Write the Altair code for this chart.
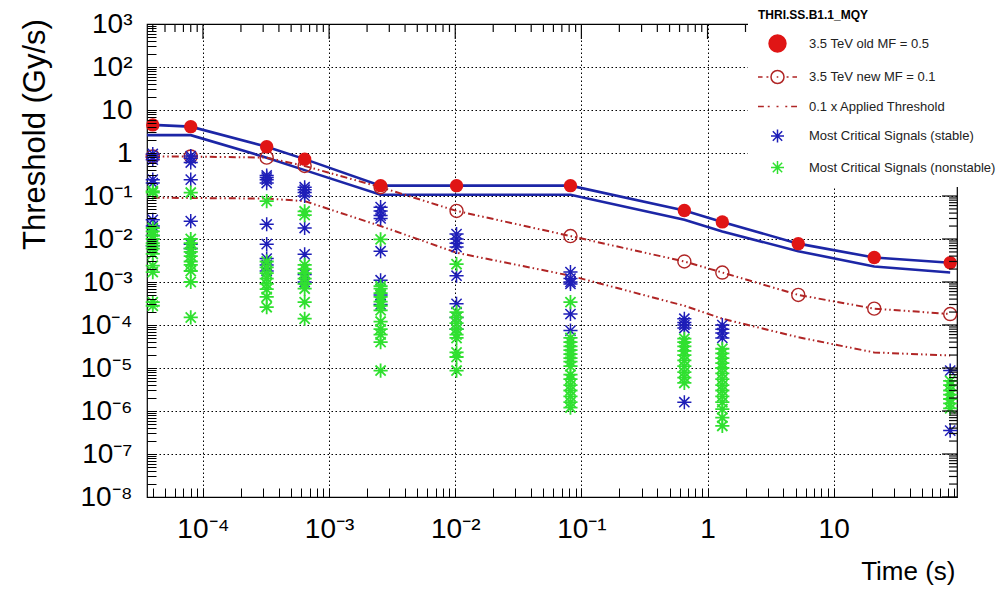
import json
import altair as alt
import pandas as pd

# ---------------- data ----------------
times = [4.0e-5, 8.0e-5, 3.2e-4, 6.4e-4, 2.56e-3, 1.024e-2, 8.192e-2, 0.655, 1.31, 5.24, 20.97, 83.89]

old_mf = [4.5, 4.1, 1.4, 0.72, 0.174, 0.174, 0.174, 0.046, 0.025, 0.0078, 0.0037, 0.0028]
new_mf = [0.83, 0.83, 0.78, 0.5, 0.16, 0.045, 0.0117, 0.0030, 0.00166, 5.0e-4, 2.4e-4, 1.8e-4]
applied_01 = [0.091, 0.09, 0.087, 0.076, 0.02, 0.0048, 0.0014, 2.8e-4, 1.4e-4, 5.2e-5, 2.3e-5, 1.95e-5]

# the two applied-threshold curves start at the left frame edge
line_times = [3.6e-5, 4.0e-5, 8.0e-5, 3.2e-4, 6.4e-4, 2.56e-3, 1.024e-2, 8.192e-2, 0.655, 1.31, 5.24, 20.97, 83.89]
thr_upper = [4.5, 4.5, 4.1, 1.4, 0.72, 0.174, 0.174, 0.174, 0.046, 0.025, 0.0078, 0.0037, 0.0028]
thr_lower = [2.6, 2.6, 2.6, 0.78, 0.4, 0.107, 0.107, 0.107, 0.028, 0.015, 0.0052, 0.0023, 0.00166]

stable_cols = [
    [0.95, 0.8, 0.7, 0.24, 0.2, 0.028, 0.02, 0.012, 0.007],
    [0.85, 0.75, 0.6, 0.24, 0.026, 0.0075, 0.006],
    [0.3, 0.27, 0.24, 0.2, 0.022, 0.0076, 0.0035, 0.0025, 0.0018],
    [0.16, 0.14, 0.12, 0.1, 0.018, 0.0044, 0.0015, 0.001],
    [0.055, 0.045, 0.035, 0.03, 0.0052, 0.0011, 5e-4, 3e-4],
    [0.013, 0.01, 0.008, 0.0065, 0.0014, 3.1e-4, 1.5e-4, 8e-5],
    [0.0017, 0.0012, 0.001, 0.0009, 1.8e-4, 7.4e-5],
    [1.4e-4, 1.15e-4, 1e-4, 8.5e-5, 1.6e-6],
    [1.0e-4, 8e-5, 6.5e-5, 5e-5],
    [],
    [],
    [8.7e-6, 3.5e-7],
]
nonstable_cols = [
    [0.13, 0.12, 0.018, 0.015, 0.012, 0.01, 0.008, 0.007, 0.006, 0.0045, 0.0024, 0.0017, 3.4e-4, 2.8e-4],
    [0.12, 0.01, 0.008, 0.006, 0.005, 0.004, 0.003, 0.0025, 0.0018, 0.001, 1.5e-4],
    [0.076, 0.003, 0.0022, 0.0016, 0.0012, 9e-4, 6.8e-4, 4.5e-4, 2.6e-4],
    [0.044, 0.036, 0.0025, 0.002, 0.0016, 0.0012, 9e-4, 7e-4, 3.4e-4, 1.4e-4],
    [0.0098, 8e-4, 7e-4, 5.5e-4, 4.5e-4, 3.5e-4, 2.8e-4, 2.2e-4, 1.2e-4, 8e-5, 6e-5, 4e-5, 8.7e-6],
    [0.0026, 2e-4, 1.5e-4, 1.1e-4, 8e-5, 6e-5, 5e-5, 2.3e-5, 1.8e-5, 8.7e-6],
    [3.4e-4, 5e-5, 4e-5, 3.2e-5, 2.6e-5, 2.1e-5, 1.7e-5, 1.4e-5, 1.1e-5, 7e-6, 5.5e-6, 4e-6, 3e-6, 2.2e-6, 1.6e-6, 1.2e-6],
    [4.8e-5, 4e-5, 3.2e-5, 2.5e-5, 2e-5, 1.5e-5, 1.1e-5, 8e-6, 6e-6, 4.5e-6],
    [2.8e-5, 2.2e-5, 1.7e-5, 1.3e-5, 1e-5, 7.5e-6, 5.5e-6, 4e-6, 3e-6, 2.2e-6, 1.6e-6, 1.1e-6, 7e-7, 4.5e-7],
    [],
    [],
    [5e-6, 4e-6, 3e-6, 2.4e-6, 1.9e-6, 1.5e-6, 1.15e-6],
]

series_names = ["3.5 TeV old MF = 0.5", "3.5 TeV new MF = 0.1", "0.1 x Applied Threshold",
                "Most Critical Signals (stable)", "Most Critical Signals (nonstable)"]

x_domain = [3.6e-5, 95.0]
y_domain = [1e-8, 1e3]
x_label_values = [1e-4, 1e-3, 1e-2, 1e-1, 1.0, 10.0]
x_labels = ["10⁻⁴", "10⁻³", "10⁻²", "10⁻¹", "1", "10"]
y_label_values = [1e-8, 1e-7, 1e-6, 1e-5, 1e-4, 1e-3, 1e-2, 1e-1, 1.0, 10.0, 100.0, 1000.0]
y_labels = ["10⁻⁸", "10⁻⁷", "10⁻⁶", "10⁻⁵", "10⁻⁴", "10⁻³", "10⁻²", "10⁻¹", "1", "10", "10²", "10³"]
minor_mantissas = [2, 3, 4, 5, 6, 7, 8, 9]
x_decades = [-5, -4, -3, -2, -1, 0, 1]
y_decades = [-8, -7, -6, -5, -4, -3, -2, -1, 0, 1, 2]

# ---------------- styling ----------------
W, H = 810, 473
FONT = "Liberation Sans"
BLUE_LINE = "#1c26a6"
BLUE_STAR = "#1e1eb8"
GREEN = "#30e030"
RED = "#e01515"
DARKRED = "#b02525"
TICK = "#0a0a0a"
STAR = "M-1,0L1,0M0,-1L0,1M-0.72,-0.72L0.72,0.72M-0.72,0.72L0.72,-0.72"
DASHDOT = [7, 3, 1.5, 3, 1.5, 3]
MAJOR_LEN, MINOR_LEN = 15, 8
AXIS_TICK = 9  # inward tick length on the labelled axes

x_minor = [m * 10.0 ** e for e in x_decades for m in minor_mantissas if x_domain[0] <= m * 10.0 ** e <= x_domain[1]]
y_minor = [m * 10.0 ** e for e in y_decades for m in minor_mantissas if y_domain[0] <= m * 10.0 ** e <= y_domain[1]]

xs = alt.Scale(type="log", domain=x_domain, nice=False)
ys = alt.Scale(type="log", domain=y_domain, nice=False)

is_major = "abs(log(datum.value)/LN10 - round(log(datum.value)/LN10)) < 0.001"

x_main_axis = alt.Axis(
    orient="bottom", values=sorted(x_label_values + x_minor),
    labelExpr=is_major + " ? " + json.dumps(x_labels, ensure_ascii=False)
    + "[round(log(datum.value)/LN10)+4] : ''",
    labelFont=FONT, labelFontSize=28, labelColor="black", labelPadding=18 + AXIS_TICK,
    labelOverlap=False, labelFlush=False, labelBound=False,
    ticks=True, tickSize=alt.ExprRef(expr=str(-AXIS_TICK)), tickColor="black", tickWidth=1,
    domain=False, grid=False,
    title="Time (s)", titleFont=FONT, titleFontSize=26, titleFontWeight="normal", titleColor="black",
    titleX=808, titleY=74, titleAlign="right", titleBaseline="middle", zindex=1)

y_main_axis = alt.Axis(
    orient="left", values=sorted(y_label_values + y_minor),
    labelExpr=is_major + " ? " + json.dumps(y_labels, ensure_ascii=False)
    + "[round(log(datum.value)/LN10)+8] : ''",
    labelFont=FONT, labelFontSize=28, labelColor="black", labelPadding=15 + AXIS_TICK,
    labelOverlap=False, labelFlush=False, labelBound=False,
    ticks=True, tickSize=alt.ExprRef(expr=str(-AXIS_TICK)), tickColor="black", tickWidth=1,
    domain=False, grid=False,
    title="Threshold (Gy/s)", titleFont=FONT, titleFontSize=31, titleFontWeight="normal",
    titleColor="black", titleX=-112, titleY=110, titleAngle=270, titleAlign="center",
    titleBaseline="middle", zindex=1)

# grid-only axes (dotted decade lines)
x_grid_axis = alt.Axis(orient="bottom", values=x_label_values, labels=False, ticks=False, domain=False,
                       grid=True, gridColor="black", gridDash=[1.5, 2.5], gridWidth=1, title=None, zindex=0)
y_grid_axis = alt.Axis(orient="left", values=y_label_values, labels=False, ticks=False, domain=False,
                       grid=True, gridColor="black", gridDash=[1.5, 2.5], gridWidth=1, title=None, zindex=0)

# ---------------- tables ----------------
upper_df = pd.DataFrame({"t": line_times, "v": thr_upper})
lower_df = pd.DataFrame({"t": line_times, "v": thr_lower})
newmf_df = pd.DataFrame({"t": times, "v": new_mf})
applied_df = pd.DataFrame({"t": times, "v": applied_01})
oldmf_df = pd.DataFrame({"t": times, "v": old_mf})

st_t, st_v, ns_t, ns_v = [], [], [], []
for t, col in zip(times, stable_cols):
    st_t += [t] * len(col)
    st_v += col
for t, col in zip(times, nonstable_cols):
    ns_t += [t] * len(col)
    ns_v += col
stable_df = pd.DataFrame({"t": st_t, "v": st_v})
nonstable_df = pd.DataFrame({"t": ns_t, "v": ns_v})

# legend helper rows sit below the y domain and are clipped away; only the legend shows
legend_df = pd.DataFrame({"series": series_names, "t": [times[0]] * 5, "v": [1e-12] * 5})


def X():
    return alt.X("t:Q", scale=xs, axis=None)


def Y():
    return alt.Y("v:Q", scale=ys, axis=None)


# ---------------- inner ticks on the right and top frame edges ----------------
def tick_layer(t_vals, v_vals, path, length):
    df = pd.DataFrame({"t": t_vals, "v": v_vals})
    return alt.Chart(df).mark_point(shape=path, size=(2 * length) ** 2, stroke=TICK,
                                    strokeWidth=1.2, filled=False, opacity=1).encode(x=X(), y=Y())


tick_layers = []
for vals, length in [(y_label_values, MAJOR_LEN), (y_minor, MINOR_LEN)]:
    tick_layers.append(tick_layer([x_domain[1]] * len(vals), vals, "M0,0H-1", length))  # right edge
for vals, length in [(x_label_values, MAJOR_LEN), (x_minor, MINOR_LEN)]:
    tick_layers.append(tick_layer(vals, [y_domain[1]] * len(vals), "M0,0V1", length))   # top edge

# ---------------- data layers ----------------
upper = alt.Chart(upper_df).mark_line(color=BLUE_LINE, strokeWidth=2.6).encode(
    x=alt.X("t:Q", scale=xs, axis=x_grid_axis),
    y=alt.Y("v:Q", scale=ys, axis=y_grid_axis))

lower = alt.Chart(lower_df).mark_line(color=BLUE_LINE, strokeWidth=2.6).encode(
    x=alt.X("t:Q", scale=xs, axis=x_main_axis),
    y=alt.Y("v:Q", scale=ys, axis=y_main_axis))

newmf_line = alt.Chart(newmf_df).mark_line(color=DARKRED, strokeWidth=2, strokeDash=DASHDOT).encode(x=X(), y=Y())
applied_line = alt.Chart(applied_df).mark_line(color=DARKRED, strokeWidth=2, strokeDash=DASHDOT).encode(x=X(), y=Y())

newmf_pts = alt.Chart(newmf_df).mark_point(shape="circle", size=170, stroke=DARKRED, strokeWidth=1.4,
                                           filled=False, opacity=1).encode(x=X(), y=Y())

stable_pts = alt.Chart(stable_df).mark_point(shape=STAR, size=200, stroke=BLUE_STAR, strokeWidth=1.5,
                                             filled=False, opacity=1).encode(x=X(), y=Y())

nonstable_pts = alt.Chart(nonstable_df).mark_point(shape=STAR, size=200, stroke=GREEN, strokeWidth=1.8,
                                                   filled=False, opacity=1).encode(x=X(), y=Y())

oldmf_pts = alt.Chart(oldmf_df).mark_circle(size=180, color=RED, opacity=1).encode(x=X(), y=Y())

leg_shapes = [
    "M-1.3,0A1.3,1.3,0,1,0,1.3,0A1.3,1.3,0,1,0,-1.3,0Z",
    "M-1,0A1,1,0,1,0,1,0A1,1,0,1,0,-1,0ZM-3,0H-2.3M-1.7,0H-1.4M-0.12,0H0.12M1.4,0H1.7M2.3,0H3",
    "M-3,0H-2.1M-1.5,0H-1.2M-0.15,0H0.15M1.2,0H1.5M2.1,0H3",
    STAR,
    STAR,
]
leg_fill = [RED, "transparent", "transparent", "transparent", "transparent"]
leg_stroke = [RED, DARKRED, DARKRED, BLUE_STAR, GREEN]

legend = alt.Legend(
    orient="none", legendX=601, legendY=-24, fillColor="white", padding=10,
    title="THRI.SS.B1.1_MQY", titleFont=FONT, titleFontSize=12, titleFontWeight="bold",
    titleColor="black", titlePadding=14,
    labelFont=FONT, labelFontSize=13, labelColor="#222222", labelOffset=24, labelLimit=300,
    symbolSize=169, symbolStrokeWidth=1.5, symbolOffset=12, rowPadding=12.5, zindex=5)

legend_layer = alt.Chart(legend_df).mark_point(filled=False, opacity=1, clip=True).encode(
    x=X(), y=Y(),
    shape=alt.Shape("series:N", scale=alt.Scale(domain=series_names, range=leg_shapes), legend=legend),
    fill=alt.Fill("series:N", scale=alt.Scale(domain=series_names, range=leg_fill), legend=legend),
    stroke=alt.Stroke("series:N", scale=alt.Scale(domain=series_names, range=leg_stroke), legend=legend),
)

chart = alt.layer(
    upper, lower, newmf_line, applied_line, newmf_pts, stable_pts, nonstable_pts, oldmf_pts,
    *tick_layers, legend_layer
).resolve_axis(x="independent", y="independent").properties(
    width=W, height=H,
    autosize=alt.AutoSizeParams(type="none"),
    padding={"left": 147, "top": 24, "right": 51, "bottom": 92},
    background="white",
).configure(font=FONT).configure_view(stroke="black", strokeWidth=1.2)

chart.save("out.html", embed_options={"renderer": "svg", "actions": False})
